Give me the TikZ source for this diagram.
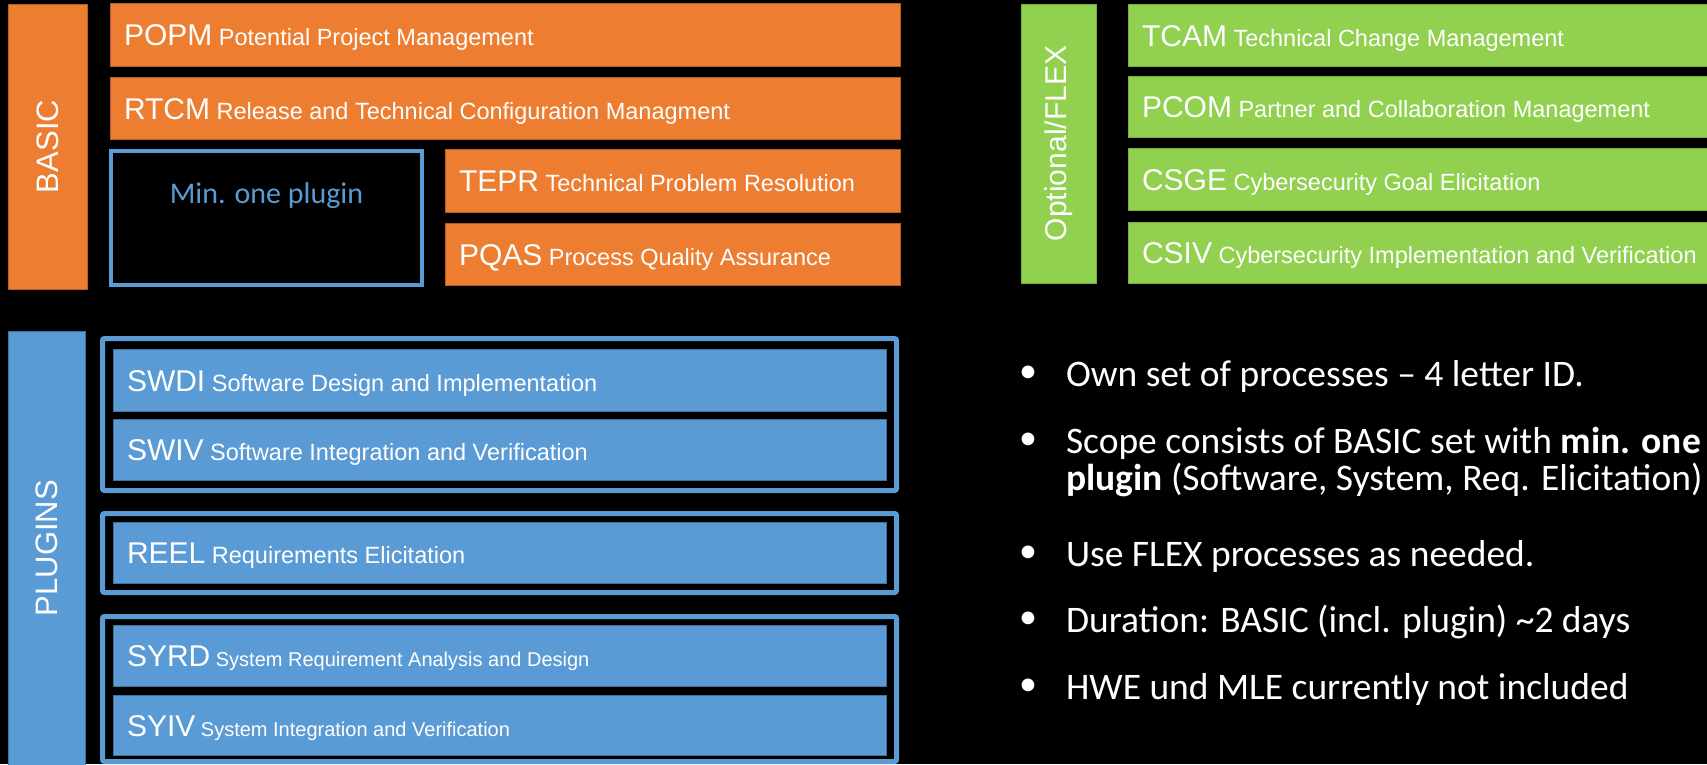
\documentclass[tikz,border=0pt]{standalone}
\usepackage{fontspec}
\setmainfont{Liberation Sans}
\newfontfamily\calibri{Carlito}
\definecolor{orangeF}{HTML}{ED7D31}
\definecolor{orangeD}{HTML}{B55D22}
\definecolor{blueF}{HTML}{5B9BD5}
\definecolor{blueD}{HTML}{41719C}
\definecolor{greenF}{HTML}{92D050}
\definecolor{greenD}{HTML}{78B03E}
\newcommand\acrfont{\fontsize{30}{36}\selectfont}
\tikzset{
  every node/.style={inner sep=0pt, outer sep=0pt},
  obox/.style={fill=orangeF, draw=orangeD, line width=0.8pt},
  bbox/.style={fill=blueF, draw=blueD, line width=0.8pt},
  gbox/.style={fill=greenF, draw=greenD, line width=0.6pt},
  grp/.style={draw=blueF, line width=5pt, rounded corners=2pt},
  ptext/.style={anchor=base west, text=white, font=\fontsize{23.5}{28}\selectfont},
  ptextsm/.style={ptext, font=\fontsize{20}{24}\selectfont},
  rotlabel/.style={rotate=90, text=white, font=\fontsize{31}{36}\selectfont},
  bul/.style={anchor=base, text=white, yshift=4pt, font=\calibri\fontsize{36}{40}\selectfont},
  btext/.style={anchor=base west, text=white, font=\calibri\fontsize{37.5}{40}\selectfont},
}
\begin{document}
\begin{tikzpicture}[x=1pt, y=-1pt]
\useasboundingbox (0,0) rectangle (1707,764);
\fill[black] (0,0) rectangle (1707,764);

% ---- BASIC block ----
\node[obox, minimum width=79pt, minimum height=285pt] (basic) at (47.5,146.5) {};
\node[rotlabel] (basicL) at (basic.center) {BASIC};

\node[obox, minimum width=790pt, minimum height=63pt] (popm) at (505,34.5) {};
\node[ptext] (popmT) at ([xshift=14pt,yshift=-11pt]popm.west) {{\acrfont POPM} Potential Project Management};

\node[obox, minimum width=790pt, minimum height=62pt] (rtcm) at (505,108) {};
\node[ptext] (rtcmT) at ([xshift=14pt,yshift=-11pt]rtcm.west) {{\acrfont RTCM} Release and Technical Configuration Managment};

\node[draw=blueF, line width=4pt, minimum width=311pt, minimum height=134pt] (minbox) at (266.5,218) {};
\node[anchor=base, text=blueF, font=\calibri\fontsize{30}{36}\selectfont] (minT) at ([yshift=-52pt]minbox.north) {Min. one plugin};

\node[obox, minimum width=455pt, minimum height=63pt] (tepr) at (672.5,180.5) {};
\node[ptext] (teprT) at ([xshift=14pt,yshift=-11pt]tepr.west) {{\acrfont TEPR} Technical Problem Resolution};

\node[obox, minimum width=455pt, minimum height=62pt] (pqas) at (672.5,254) {};
\node[ptext] (pqasT) at ([xshift=14pt,yshift=-11pt]pqas.west) {{\acrfont PQAS} Process Quality Assurance};

% ---- Optional/FLEX block ----
\node[gbox, minimum width=75pt, minimum height=279pt] (flex) at (1058.5,143.5) {};
\node[rotlabel, font=\fontsize{30}{36}\selectfont] (flexL) at (flex.center) {Optional/FLEX};

\node[gbox, minimum width=580pt, minimum height=62pt] (tcam) at (1418,35) {};
\node[ptext] (tcamT) at ([xshift=14pt,yshift=-11pt]tcam.west) {{\acrfont TCAM} Technical Change Management};

\node[gbox, minimum width=580pt, minimum height=61pt] (pcom) at (1418,106.5) {};
\node[ptext] (pcomT) at ([xshift=14pt,yshift=-11pt]pcom.west) {{\acrfont PCOM} Partner and Collaboration Management};

\node[gbox, minimum width=580pt, minimum height=62pt] (csge) at (1418,179) {};
\node[ptext] (csgeT) at ([xshift=14pt,yshift=-11pt]csge.west) {{\acrfont CSGE} Cybersecurity Goal Elicitation};

\node[gbox, minimum width=580pt, minimum height=61pt] (csiv) at (1418,252.5) {};
\node[ptext] (csivT) at ([xshift=14pt,yshift=-11pt]csiv.west) {{\acrfont CSIV} Cybersecurity Implementation and Verification};

% ---- PLUGINS block ----
\node[bbox, minimum width=77pt, minimum height=440pt] (plugins) at (46.5,551) {};
\node[rotlabel] (pluginsL) at (46.5,548) {PLUGINS};

\node[grp, minimum width=794pt, minimum height=152pt] (grpsw) at (499.5,414.5) {};
\node[grp, minimum width=794pt, minimum height=79pt] (grpre) at (499.5,553) {};
\node[grp, minimum width=794pt, minimum height=145pt] (grpsy) at (499.5,689) {};

\node[bbox, minimum width=773pt, minimum height=62pt] (swdi) at (499.5,380) {};
\node[ptext] (swdiT) at ([xshift=14pt,yshift=-11pt]swdi.west) {{\acrfont SWDI} Software Design and Implementation};

\node[bbox, minimum width=773pt, minimum height=61pt] (swiv) at (499.5,449.5) {};
\node[ptext] (swivT) at ([xshift=14pt,yshift=-11pt]swiv.west) {{\acrfont SWIV} Software Integration and Verification};

\node[bbox, minimum width=773pt, minimum height=61pt] (reel) at (499.5,552.5) {};
\node[ptext] (reelT) at ([xshift=14pt,yshift=-11pt]reel.west) {{\acrfont REEL} Requirements Elicitation};

\node[bbox, minimum width=773pt, minimum height=61pt] (syrd) at (499.5,655.5) {};
\node[ptextsm] (syrdT) at ([xshift=14pt,yshift=-11pt]syrd.west) {{\acrfont SYRD} System Requirement Analysis and Design};

\node[bbox, minimum width=773pt, minimum height=60pt] (syiv) at (499.5,725) {};
\node[ptextsm] (syivT) at ([xshift=14pt,yshift=-11pt]syiv.west) {{\acrfont SYIV} System Integration and Verification};

% ---- bullet list ----
\node[bul] (b1) at (1028,386) {•};
\node[btext] (b1t) at (1066,386) {Own set of processes – 4 letter ID.};
\node[bul] (b2) at (1028,453) {•};
\node[btext] (b2t) at (1066,453) {Scope consists of BASIC set with \textbf{min. one}};
\node[btext] (b2u) at (1066,490) {\textbf{plugin} (Software, System, Req. Elicitation)};
\node[bul] (b3) at (1028,566) {•};
\node[btext] (b3t) at (1066,566) {Use FLEX processes as needed.};
\node[bul] (b4) at (1028,632) {•};
\node[btext] (b4t) at (1066,632) {Duration: BASIC (incl. plugin) \textasciitilde 2 days};
\node[bul] (b5) at (1028,699) {•};
\node[btext] (b5t) at (1066,699) {HWE und MLE currently not included};
\end{tikzpicture}
\end{document}
